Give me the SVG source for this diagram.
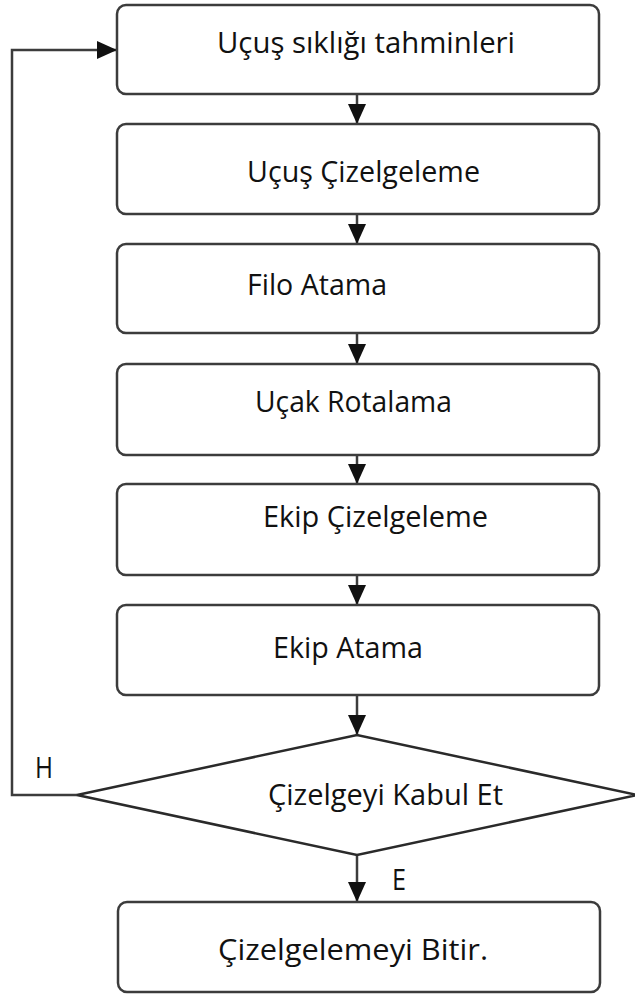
<svg xmlns="http://www.w3.org/2000/svg" width="635" height="996" viewBox="0 0 635 996">
<defs>
<style>
.box{fill:#fff;stroke:#3c3c3c;stroke-width:2.5}
.dia{fill:#fff;stroke:#2a2a2a;stroke-width:2.5;stroke-linejoin:miter}
.con{fill:none;stroke:#3c3c3c;stroke-width:2.5}
.t{font-family:"Open Sans","Noto Sans","Liberation Sans",sans-serif;font-size:30px;fill:#111}
</style>
<marker id="ah" markerUnits="userSpaceOnUse" markerWidth="20" markerHeight="18" refX="20" refY="9" orient="auto">
<path d="M0,0 L20,9 L0,18 z" fill="#111"/>
</marker>
</defs>
<rect width="635" height="996" fill="#fff"/>
<g id="connectors">
<line class="con" x1="357" y1="94" x2="357" y2="124" marker-end="url(#ah)"/>
<line class="con" x1="357" y1="214" x2="357" y2="244" marker-end="url(#ah)"/>
<line class="con" x1="357" y1="333" x2="357" y2="364" marker-end="url(#ah)"/>
<line class="con" x1="357" y1="455" x2="357" y2="484" marker-end="url(#ah)"/>
<line class="con" x1="357" y1="575" x2="357" y2="605" marker-end="url(#ah)"/>
<line class="con" x1="357" y1="695" x2="357" y2="735" marker-end="url(#ah)"/>
<line class="con" x1="357" y1="855" x2="357" y2="902" marker-end="url(#ah)"/>
<polyline class="con" points="77,795 12,795 12,50 117,50" marker-end="url(#ah)"/>
<text class="t" x="35" y="778" textLength="18" lengthAdjust="spacingAndGlyphs">H</text>
<text class="t" x="392" y="890" textLength="14" lengthAdjust="spacingAndGlyphs">E</text>
</g>
<g id="n1">
<rect class="box" x="117" y="5" width="482" height="89" rx="9"/>
<text class="t" x="217" y="53" textLength="298" lengthAdjust="spacingAndGlyphs">Uçuş sıklığı tahminleri</text>
</g>
<g id="n2">
<rect class="box" x="117" y="124" width="482" height="90" rx="9"/>
<text class="t" x="247" y="182" textLength="233" lengthAdjust="spacingAndGlyphs">Uçuş Çizelgeleme</text>
</g>
<g id="n3">
<rect class="box" x="117" y="244" width="482" height="89" rx="9"/>
<text class="t" x="247" y="295" textLength="140" lengthAdjust="spacingAndGlyphs">Filo Atama</text>
</g>
<g id="n4">
<rect class="box" x="117" y="364" width="482" height="91" rx="9"/>
<text class="t" x="255" y="412" textLength="197" lengthAdjust="spacingAndGlyphs">Uçak Rotalama</text>
</g>
<g id="n5">
<rect class="box" x="117" y="484" width="482" height="91" rx="9"/>
<text class="t" x="263" y="527" textLength="225" lengthAdjust="spacingAndGlyphs">Ekip Çizelgeleme</text>
</g>
<g id="n6">
<rect class="box" x="117" y="605" width="482" height="90" rx="9"/>
<text class="t" x="273" y="658" textLength="150" lengthAdjust="spacingAndGlyphs">Ekip Atama</text>
</g>
<g id="n7">
<polygon class="dia" points="77,795 357,735 637,795 357,855"/>
<text class="t" x="268" y="805" textLength="235" lengthAdjust="spacingAndGlyphs">Çizelgeyi Kabul Et</text>
</g>
<g id="n8">
<rect class="box" x="118" y="902" width="482" height="90" rx="9"/>
<text class="t" x="218" y="960" textLength="270" lengthAdjust="spacingAndGlyphs">Çizelgelemeyi Bitir.</text>
</g>
</svg>
